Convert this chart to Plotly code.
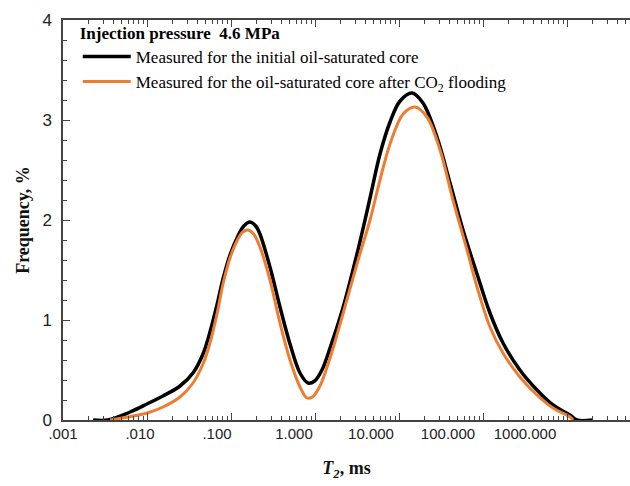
import plotly.graph_objects as go

# ---- data (T2 in ms, frequency in %) ----
t2_initial = [0.00228, 0.00343, 0.00628, 0.0100, 0.0155, 0.0247, 0.0353, 0.0464, 0.0562, 0.0681,
              0.0803, 0.0973, 0.121, 0.142, 0.168, 0.197, 0.221, 0.291, 0.383, 0.504,
              0.663, 0.826, 0.990, 1.21, 1.51, 2.15, 3.16, 4.52, 5.94, 7.82,
              10.3, 14.3, 19.3, 28.3, 40.5, 57.8, 84.9, 121, 173, 275,
              439, 681, 1086, 1316, 1986]
freq_initial = [0.0, 0.0, 0.08, 0.16, 0.24, 0.34, 0.47, 0.66, 0.88, 1.15,
                1.41, 1.65, 1.84, 1.94, 1.98, 1.94, 1.86, 1.53, 1.13, 0.76,
                0.47, 0.37, 0.39, 0.50, 0.72, 1.12, 1.66, 2.22, 2.66, 2.98,
                3.19, 3.27, 3.17, 2.83, 2.37, 1.90, 1.46, 1.07, 0.77, 0.50,
                0.30, 0.15, 0.05, 0.0, 0.0]

t2_after = [0.00363, 0.0100, 0.0155, 0.0247, 0.0353, 0.0464, 0.0562, 0.0681, 0.0803, 0.0973,
            0.121, 0.138, 0.159, 0.186, 0.221, 0.291, 0.383, 0.504, 0.663, 0.803,
            0.93, 1.13, 1.51, 2.15, 3.16, 4.52, 5.94, 7.82, 11.2, 15.5,
            21.5, 30.8, 43.9, 64.5, 84.9, 121, 173, 275, 439, 681,
            1086, 1178]
freq_after = [0.0, 0.07, 0.13, 0.23, 0.37, 0.56, 0.77, 1.06, 1.36, 1.62,
              1.81, 1.88, 1.90, 1.86, 1.73, 1.40, 0.97, 0.60, 0.33, 0.22,
              0.23, 0.33, 0.62, 1.06, 1.56, 2.00, 2.40, 2.76, 3.06, 3.13,
              3.03, 2.70, 2.20, 1.70, 1.33, 0.93, 0.67, 0.43, 0.25, 0.12,
              0.03, 0.0]

x_major = [0.001, 0.01, 0.1, 1, 10, 100, 1000, 10000]
x_labels = [".001", ".010", ".100", "1.000", "10.000", "100.000", "1000.000", "10000.000"]
y_major = [0, 1, 2, 3, 4]

series_names = ["Measured for the initial oil-saturated core",
                "Measured for the oil-saturated core after CO<sub>2</sub> flooding"]
legend_title = "<b>Injection pressure  4.6 MPa</b>"

x_minor = [m * d for d in x_major[:-1] for m in range(2, 10)]

fig = go.Figure()
fig.add_trace(go.Scatter(x=t2_initial, y=freq_initial, mode="lines", name=series_names[0],
                         line=dict(color="black", width=3.5, shape="spline", smoothing=1.0)))
fig.add_trace(go.Scatter(x=t2_after, y=freq_after, mode="lines", name=series_names[1],
                         line=dict(color="#EE7D31", width=3, shape="spline", smoothing=1.0)))
# invisible trace for the label axis
fig.add_trace(go.Scatter(x=[1], y=[0], xaxis="x2", mode="markers", marker=dict(opacity=0),
                         showlegend=False, hoverinfo="skip"))

axis_color = "#444444"
fig.update_layout(
    width=630, height=486,
    margin=dict(l=63, r=0, t=20, b=66),
    paper_bgcolor="white", plot_bgcolor="white",
    font=dict(family="Liberation Sans", color="#222222"),
    xaxis=dict(type="log", range=[-3, 3.75],
               tickmode="array", tickvals=x_major, showticklabels=False,
               ticks="inside", ticklen=7, tickwidth=1.2, tickcolor=axis_color,
               minor=dict(tickmode="array", tickvals=x_minor, ticks="inside", ticklen=4,
                          tickwidth=1, tickcolor=axis_color, showgrid=False),
               showline=True, linecolor=axis_color, linewidth=1.5, mirror="ticks",
               showgrid=False, zeroline=False,
               title=dict(text="<b><i>T</i><sub><i>2</i></sub>, ms</b>",
                          font=dict(family="Liberation Serif", size=18, color="#111111"),
                          standoff=41)),
    xaxis2=dict(type="log", overlaying="x", anchor="y", side="bottom",
                range=[-3.0, 4.364],
                tickmode="array", tickvals=x_major, ticktext=x_labels,
                ticks="", ticklabelstandoff=3, showline=False, showgrid=False, zeroline=False,
                tickfont=dict(family="Liberation Sans", size=15, color="#222222")),
    yaxis=dict(range=[0, 4], tickmode="array", tickvals=y_major,
               ticks="inside", ticklen=7, tickwidth=1.2, tickcolor=axis_color,
               minor=dict(dtick=0.2, ticks="inside", ticklen=4, tickwidth=1,
                          tickcolor=axis_color, showgrid=False),
               showline=True, linecolor=axis_color, linewidth=1.5, mirror=False,
               showgrid=False, zeroline=False, ticklabelstandoff=6,
               tickfont=dict(family="Liberation Sans", size=17, color="#222222"),
               title=dict(text="<b>Frequency, %</b>",
                          font=dict(family="Liberation Serif", size=18, color="#111111"),
                          standoff=8)),
    legend=dict(x=0.026, y=1.008, xanchor="left", yanchor="top",
                bgcolor="rgba(0,0,0,0)", borderwidth=0,
                title=dict(text=legend_title, side="top",
                           font=dict(family="Liberation Serif", size=17, color="black")),
                font=dict(family="Liberation Serif", size=17, color="black"),
                itemwidth=48, tracegroupgap=0),
    showlegend=True,
)

fig.write_html("out.html")
